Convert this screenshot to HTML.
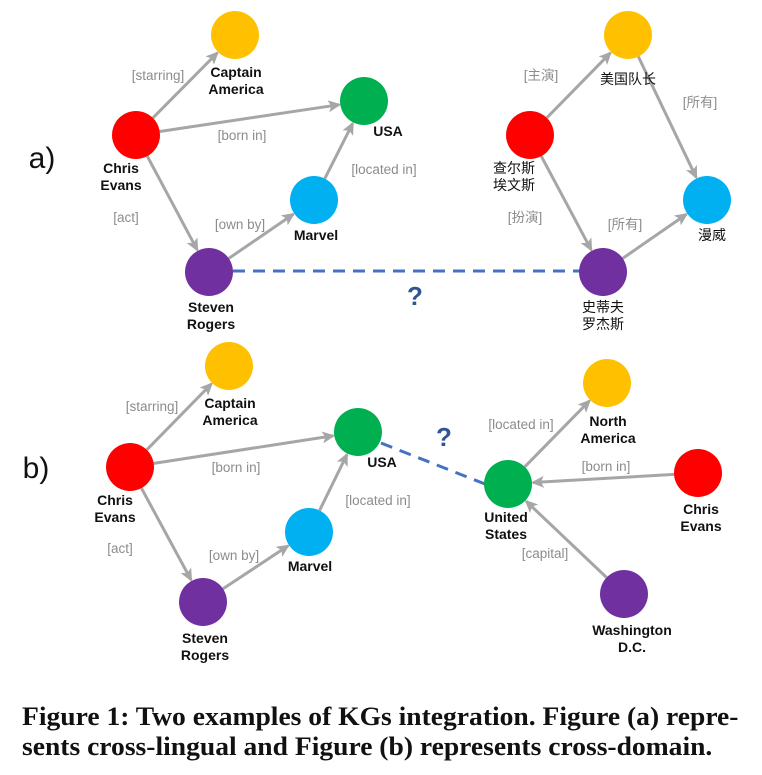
<!DOCTYPE html>
<html><head><meta charset="utf-8"><style>
html,body{margin:0;padding:0;background:#fff;width:762px;height:775px;overflow:hidden}
svg{display:block}
.n{font-family:"Liberation Sans","Noto Sans CJK SC",sans-serif;font-weight:bold;font-size:14px;fill:#111;text-anchor:middle}
.c{font-family:"Liberation Sans","Noto Sans CJK SC",sans-serif;font-size:14px;fill:#111;text-anchor:middle}
.e{font-family:"Liberation Sans","Noto Sans CJK SC",sans-serif;font-size:13.5px;fill:#8c8c8c;text-anchor:middle}
.cap{position:absolute;left:22px;top:702px;font-family:"Liberation Serif",serif;font-weight:bold;font-size:26px;line-height:30px;color:#111;white-space:nowrap;transform-origin:0 0;transform:scaleX(1.06)}
</style></head><body>
<svg id="s" width="762" height="775" xmlns="http://www.w3.org/2000/svg">
<defs><marker id="ar" markerWidth="13" markerHeight="12" refX="11" refY="6" orient="auto" markerUnits="userSpaceOnUse"><path d="M0,0 L13,6 L0,12 L3,6 z" fill="#a6a6a6"/></marker></defs>
<g id="edges"></g>
<line x1="233" y1="271" x2="580" y2="271" stroke="#4472c4" stroke-width="3" stroke-dasharray="12,8"/>
<line x1="381" y1="443" x2="485" y2="484" stroke="#4472c4" stroke-width="3" stroke-dasharray="12,8"/>
<g id="nodes"></g>
<text x="42" y="168" font-family="Liberation Sans,sans-serif" font-size="30" fill="#111" text-anchor="middle">a)</text>
<text x="36" y="478" font-family="Liberation Sans,sans-serif" font-size="30" fill="#111" text-anchor="middle">b)</text>
<text x="415" y="305" font-family="Liberation Sans,sans-serif" font-weight="bold" font-size="26" fill="#2f5597" text-anchor="middle">?</text>
<text x="444" y="446" font-family="Liberation Sans,sans-serif" font-weight="bold" font-size="26" fill="#2f5597" text-anchor="middle">?</text>
<text class="n" x="121" y="173">Chris</text><text class="n" x="121" y="190">Evans</text>
<text class="n" x="236" y="77">Captain</text><text class="n" x="236" y="94">America</text>
<text class="n" x="388" y="136">USA</text>
<text class="n" x="316" y="240">Marvel</text>
<text class="n" x="211" y="312">Steven</text><text class="n" x="211" y="329">Rogers</text>
<text class="c" x="514" y="173">查尔斯</text><text class="c" x="514" y="190">埃文斯</text>
<text class="c" x="628" y="84">美国队长</text>
<text class="c" x="712" y="240">漫威</text>
<text class="c" x="603" y="312">史蒂夫</text><text class="c" x="603" y="329">罗杰斯</text>
<text class="n" x="230" y="408">Captain</text><text class="n" x="230" y="425">America</text>
<text class="n" x="115" y="505">Chris</text><text class="n" x="115" y="522">Evans</text>
<text class="n" x="382" y="467">USA</text>
<text class="n" x="310" y="571">Marvel</text>
<text class="n" x="205" y="643">Steven</text><text class="n" x="205" y="660">Rogers</text>
<text class="n" x="608" y="426">North</text><text class="n" x="608" y="443">America</text>
<text class="n" x="506" y="522">United</text><text class="n" x="506" y="539">States</text>
<text class="n" x="701" y="514">Chris</text><text class="n" x="701" y="531">Evans</text>
<text class="n" x="632" y="635" fill="#333">Washington</text><text class="n" x="632" y="652">D.C.</text>
<text class="e" x="158" y="80">[starring]</text>
<text class="e" x="242" y="140">[born in]</text>
<text class="e" x="384" y="174">[located in]</text>
<text class="e" x="240" y="229">[own by]</text>
<text class="e" x="126" y="222">[act]</text>
<text class="e" x="541" y="80">[主演]</text>
<text class="e" x="700" y="107">[所有]</text>
<text class="e" x="525" y="222">[扮演]</text>
<text class="e" x="625" y="229">[所有]</text>
<text class="e" x="152" y="411">[starring]</text>
<text class="e" x="236" y="472">[born in]</text>
<text class="e" x="378" y="505">[located in]</text>
<text class="e" x="234" y="560">[own by]</text>
<text class="e" x="120" y="553">[act]</text>
<text class="e" x="521" y="429">[located in]</text>
<text class="e" x="606" y="471">[born in]</text>
<text class="e" x="545" y="558">[capital]</text>
</svg>
<div class="cap">Figure 1: Two examples of KGs integration. Figure (a) repre-<br>sents cross-lingual and Figure (b) represents cross-domain.</div>
<script>
var R=24,N={
ar:[136,135,'#ff0000'],ay:[235,35,'#ffc000'],ag:[364,101,'#00b050'],ab:[314,200,'#00b0f0'],ap:[209,272,'#7030a0'],
cr:[530,135,'#ff0000'],cy:[628,35,'#ffc000'],cb:[707,200,'#00b0f0'],cp:[603,272,'#7030a0'],
br:[130,467,'#ff0000'],by:[229,366,'#ffc000'],bg:[358,432,'#00b050'],bb:[309,532,'#00b0f0'],bp:[203,602,'#7030a0'],
dg:[508,484,'#00b050'],dy:[607,383,'#ffc000'],dr:[698,473,'#ff0000'],dp:[624,594,'#7030a0']};
var E=[['ar','ay'],['ar','ag'],['ar','ap'],['ap','ab'],['ab','ag'],['cr','cy'],['cy','cb'],['cr','cp'],['cp','cb'],
['br','by'],['br','bg'],['br','bp'],['bp','bb'],['bb','bg'],['dg','dy'],['dr','dg'],['dp','dg']];
var ns='http://www.w3.org/2000/svg',ge=document.getElementById('edges'),gn=document.getElementById('nodes');
E.forEach(function(e){var a=N[e[0]],b=N[e[1]],dx=b[0]-a[0],dy=b[1]-a[1],L=Math.hypot(dx,dy),ux=dx/L,uy=dy/L;
var l=document.createElementNS(ns,'line');l.setAttribute('x1',a[0]+ux*R);l.setAttribute('y1',a[1]+uy*R);
l.setAttribute('x2',b[0]-ux*(R+1));l.setAttribute('y2',b[1]-uy*(R+1));l.setAttribute('stroke','#a6a6a6');
l.setAttribute('stroke-width','3');l.setAttribute('marker-end','url(#ar)');ge.appendChild(l);});
for(var k in N){var c=document.createElementNS(ns,'circle');c.setAttribute('cx',N[k][0]);c.setAttribute('cy',N[k][1]);c.setAttribute('r',R);c.setAttribute('fill',N[k][2]);gn.appendChild(c);}
</script>
</body></html>
